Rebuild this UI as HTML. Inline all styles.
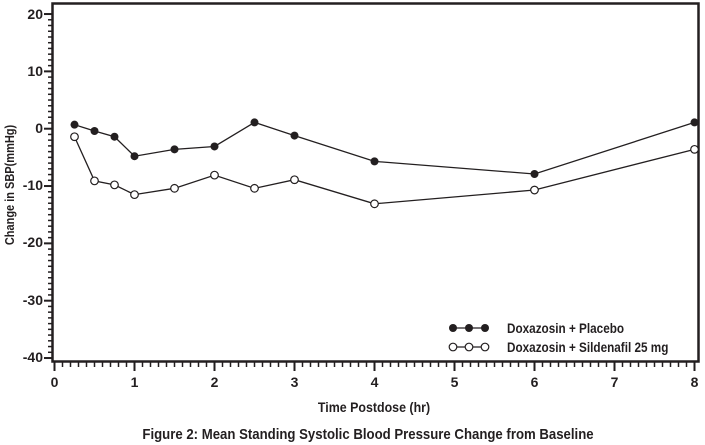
<!DOCTYPE html>
<html><head><style>body{margin:0;background:#fff}svg{display:block}text{font-family:"Liberation Sans",Arial,sans-serif;font-weight:bold;fill:#231f20}</style></head><body>
<svg width="705" height="445" viewBox="0 0 705 445">
<g id="ticks" stroke="#231f20"></g>
<rect x="52.5" y="3.5" width="646" height="358" fill="none" stroke="#231f20" stroke-width="2.5"/>
<g font-size="14">
<text x="43" y="19" text-anchor="end">20</text>
<text x="43" y="76" text-anchor="end">10</text>
<text x="43" y="133" text-anchor="end">0</text>
<text x="43" y="190" text-anchor="end">-10</text>
<text x="43" y="247" text-anchor="end">-20</text>
<text x="43" y="305" text-anchor="end">-30</text>
<text x="43" y="362" text-anchor="end">-40</text>
</g>
<g font-size="14" text-anchor="middle" id="xl"></g>
<text x="0" y="0" font-size="12.5" text-anchor="middle" transform="translate(14 185) rotate(-90) scale(0.88 1)">Change in SBP(mmHg)</text>
<text x="0" y="0" font-size="13.5" text-anchor="middle" transform="translate(374 412) scale(0.92 1)">Time Postdose (hr)</text>
<text x="0" y="0" font-size="15" text-anchor="middle" transform="translate(368 439) scale(0.88 1)">Figure 2: Mean Standing Systolic Blood Pressure Change from Baseline</text>
<polyline id="l1" fill="none" stroke="#231f20" stroke-width="1.3"/>
<polyline id="l2" fill="none" stroke="#231f20" stroke-width="1.3"/>
<g id="m"></g>
<line x1="452" y1="328" x2="485" y2="328" stroke="#231f20" stroke-width="1.3"/>
<circle cx="453" cy="328" r="4" fill="#231f20"/><circle cx="469" cy="328" r="4" fill="#231f20"/><circle cx="485" cy="328" r="4" fill="#231f20"/>
<line x1="452" y1="347" x2="485" y2="347" stroke="#231f20" stroke-width="1.3"/>
<circle cx="453" cy="347" r="3.8" fill="#fff" stroke="#231f20" stroke-width="1.2"/><circle cx="469" cy="347" r="3.8" fill="#fff" stroke="#231f20" stroke-width="1.2"/><circle cx="485" cy="347" r="3.8" fill="#fff" stroke="#231f20" stroke-width="1.2"/>
<text x="0" y="0" font-size="13.5" transform="translate(507 333) scale(0.87 1)">Doxazosin + Placebo</text>
<text x="0" y="0" font-size="13.5" transform="translate(507 352) scale(0.87 1)">Doxazosin + Sildenafil 25 mg</text>
</svg>
<script>
var NS="http://www.w3.org/2000/svg";
function X(v){return 54.5+v*80}function Y(v){return 128.7-v*5.733}
var t=document.getElementById("ticks");
function ln(a,b,c,d,w){var l=document.createElementNS(NS,"line");l.setAttribute("x1",a);l.setAttribute("y1",b);l.setAttribute("x2",c);l.setAttribute("y2",d);l.setAttribute("stroke-width",w);t.appendChild(l);}
for(var i=-40;i<=20;i++){var maj=i%10==0;ln(52,Y(i),maj?44:48,Y(i),maj?2:1.5);}
for(var i=0;i<=80;i++){var maj=i%10==0;ln(X(i/10),362,X(i/10),maj?371:367,maj?2:1.5);}
var xl=document.getElementById("xl");
for(var i=0;i<=8;i++){var s=document.createElementNS(NS,"text");s.setAttribute("x",X(i));s.setAttribute("y",387);s.textContent=i;xl.appendChild(s);}
var xs=[0.25,0.5,0.75,1,1.5,2,2.5,3,4,6,8];
var a=[0.7,-0.4,-1.4,-4.8,-3.6,-3.1,1.1,-1.2,-5.7,-7.9,1.1];
var b=[-1.4,-9.1,-9.8,-11.5,-10.4,-8.1,-10.4,-8.9,-13.1,-10.7,-3.6];
var m=document.getElementById("m");
function draw(id,d,fill){var p=[];for(var i=0;i<xs.length;i++){p.push(X(xs[i])+","+Y(d[i]));var c=document.createElementNS(NS,"circle");c.setAttribute("cx",X(xs[i]));c.setAttribute("cy",Y(d[i]));c.setAttribute("r",fill?4:3.8);c.setAttribute("fill",fill?"#231f20":"#fff");c.setAttribute("stroke","#231f20");c.setAttribute("stroke-width",fill?0:1.2);m.appendChild(c);}document.getElementById(id).setAttribute("points",p.join(" "));}
draw("l1",a,true);draw("l2",b,false);
</script>
</body></html>
